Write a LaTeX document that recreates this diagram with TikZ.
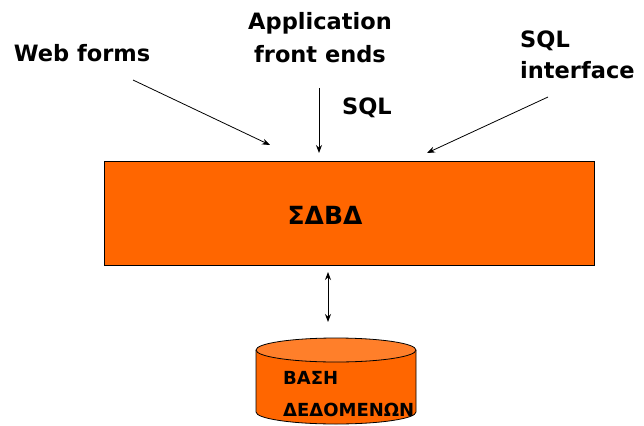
\documentclass[tikz,border=0pt]{standalone}
\usepackage{fontspec}
\setmainfont{DejaVu Sans}
\usetikzlibrary{arrows.meta,shapes.geometric}
\definecolor{dbmsorange}{HTML}{FF6600}
\definecolor{cyltop}{HTML}{FF7F2A}
\tikzset{
  lbl/.style={font=\bfseries\fontsize{22.5}{31}\selectfont, inner sep=0pt},
  greek/.style={font=\bfseries\fontsize{18}{22}\selectfont, inner sep=0pt, anchor=west},
  feed/.style={draw=black, line width=0.8pt, -{Stealth[length=8pt,width=6pt]}},
  link/.style={draw=black, line width=0.8pt, {Stealth[length=8pt,width=6pt]}-{Stealth[length=8pt,width=6pt]}}
}
\begin{document}
\begin{tikzpicture}[x=1pt,y=-1pt]
\useasboundingbox (0,0) rectangle (644,425);
\clip (0,0) rectangle (644,425);

% input labels
\node[lbl] (web) at (82,53) {Web forms};
\node[lbl, align=center] (app) at (320,38) {Application\\[2pt]front ends};
\node[lbl] (sql) at (367,108) {SQL};
\node[lbl, align=left, anchor=west] (iface) at (520,55) {SQL\\interface};

% DBMS block
\node[draw=black, line width=0.8pt, fill=dbmsorange, minimum width=490pt, minimum height=104pt, inner sep=0pt] (dbms) at (349,213) {};
\node[font=\bfseries\fontsize{25}{30}\selectfont, inner sep=0pt] (dbmsname) at (325,215) {ΣΔΒΔ};

% arrow end points above the block
\coordinate (webfrom) at (133,80);
\coordinate (webto) at (270,145);
\coordinate (appfrom) at (319,88);
\coordinate (appto) at (319,153);
\coordinate (iffrom) at (548,97);
\coordinate (ifto) at (427,153);
\draw[feed] (webfrom) -- (webto);
\draw[feed] (appfrom) -- (appto);
\draw[feed] (iffrom) -- (ifto);

% database cylinder
\fill[dbmsorange] (256,350) -- (256,412) arc[start angle=180, end angle=0, x radius=80, y radius=12] -- (416,350) -- cycle;
\draw[line width=0.8pt] (256,350) -- (256,412) arc[start angle=180, end angle=0, x radius=80, y radius=12] -- (416,350);
\draw[line width=0.8pt, fill=cyltop] (336,350) ellipse[x radius=80, y radius=12];
\node[minimum width=160pt, minimum height=74pt, inner sep=0pt] (db) at (336,387) {};
\node[greek] (dbl1) at (283,378) {ΒΑΣΗ};
\node[greek] (dbl2) at (283,410) {ΔΕΔΟΜΕΝΩΝ};

% DBMS <-> database
\coordinate (linktop) at (328,272);
\coordinate (linkbot) at (328,322);
\draw[link] (linktop) -- (linkbot);
\end{tikzpicture}
\end{document}
